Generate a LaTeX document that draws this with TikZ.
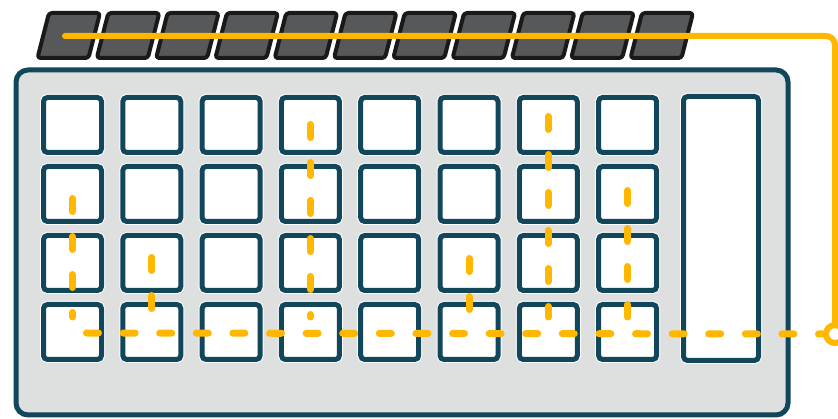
\documentclass[tikz,border=0pt]{standalone}
\usepackage{tikz}
\usetikzlibrary{calc}
\definecolor{padteal}{RGB}{18,70,90}
\definecolor{padgray}{RGB}{222,223,223}
\definecolor{tilegray}{RGB}{86,88,90}
\definecolor{tileedge}{RGB}{25,25,25}
\definecolor{wireyellow}{RGB}{255,183,0}

\begin{document}
\begin{tikzpicture}[x=1pt,y=-1pt,
  key/.style={draw=padteal,fill=white,line width=5pt,rounded corners=4pt,
    minimum width=58pt,minimum height=55pt,inner sep=0pt,
    preaction={draw=white,line width=7pt}},
  tile/.style={draw=tileedge,fill=tilegray,line width=4pt,rounded corners=3pt,line join=round},
  signal/.style={draw=wireyellow,line width=6pt,line cap=round,rounded corners=9pt},
  bus/.style={draw=wireyellow,line width=7pt,line cap=round,dash pattern=on 12pt off 24.6pt},
  vbus/.style={bus,dash pattern=on 13pt off 25pt}]
 \useasboundingbox (0,0) rectangle (838,419);
 % top strip
 \foreach \i in {0,...,10}
   \draw[tile] (37.5+59.3*\i,58) -- ++(51,0) -- ++(11.5,-45) -- ++(-51,0) -- cycle;
 % pad body
 \draw[draw=padteal,fill=padgray,line width=5pt,rounded corners=12pt] (16,70) rectangle (788,415);
 \foreach \r in {1,...,4}
   \foreach \c in {1,...,8}
     \node[key] (k-\r-\c) at (72.5+79.3*\c-79.3,125+69*\r-69) {};
 \node[key,minimum width=75pt,minimum height=264pt] (tall) at (721,228.5) {};
 % wiring
 \coordinate (src) at (65,36);
 \coordinate (bus-start) at (86.5,333);
 \node[draw=wireyellow,fill=white,line width=6pt,circle,minimum size=18pt,inner sep=0pt] (port) at (835,334) {};
 \draw[signal] (src) -| (port.north);
 \draw[bus] (bus-start) -- (port.west);
 \foreach \c/\top in {1/198.5,2/257.5,4/124.5,6/258.5,7/116.5,8/190.5}
   \draw[vbus] (k-1-\c |- 0,\top) -- (k-4-\c |- 0,317);
\end{tikzpicture}
\end{document}
